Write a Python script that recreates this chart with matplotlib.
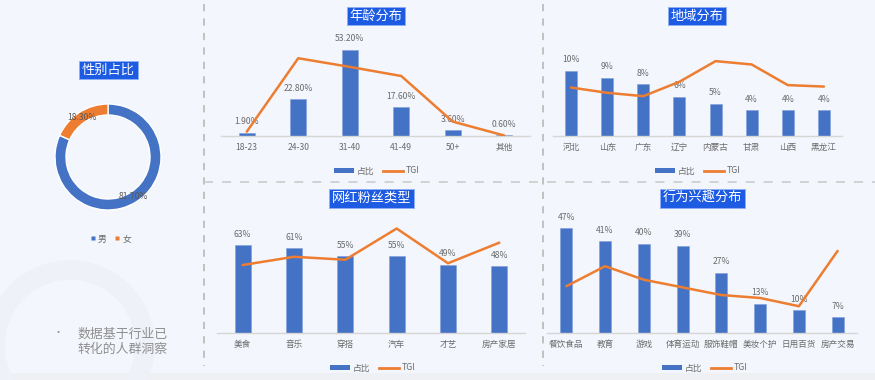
import matplotlib
matplotlib.use("Agg")
import matplotlib.pyplot as plt
from matplotlib.patches import Patch, Circle
from matplotlib.lines import Line2D

plt.rcParams['font.family'] = ['Noto Sans CJK SC', 'DejaVu Sans']

# ---------------- data ----------------
gender_labels = ['男', '女']
gender_values = [81.7, 18.3]

age_cats = ['18-23', '24-30', '31-40', '41-49', '50+', '其他']
age_share = [1.9, 22.8, 53.2, 17.6, 3.6, 0.6]
age_tgi = [9, 162, 144, 125, 30, 1]

region_cats = ['河北', '山东', '广东', '辽宁', '内蒙古', '甘肃', '山西', '黑龙江']
region_share = [10, 9, 8, 6, 5, 4, 4, 4]
region_tgi = [101, 90, 83, 113, 156, 149, 106, 103]

fan_cats = ['美食', '音乐', '穿搭', '汽车', '才艺', '房产家居']
fan_share = [63, 61, 55, 55, 49, 48]
fan_tgi = [115, 129, 124, 177, 118, 153]

interest_cats = ['餐饮食品', '教育', '游戏', '体育运动', '服饰鞋帽', '美妆个护', '日用百货', '房产交易']
interest_share = [47, 41, 40, 39, 27, 13, 10, 7]
interest_tgi = [79, 113, 90, 77, 64, 59, 45, 139]

# ---------------- style ----------------
W, H = 875, 380
BLUE = '#4472c4'
ORANGE = '#ed7d31'
TITLE_BG = '#1d5be3'
TXT = '#6b6b6b'
BG = '#f3f6fc'

fig = plt.figure(figsize=(W / 100, H / 100), dpi=100, facecolor=BG)


def rect(x0, y0, x1, y1):
    return [x0 / W, 1 - y1 / H, (x1 - x0) / W, (y1 - y0) / H]


def fx(x):
    return x / W


def fy(y):
    return 1 - y / H


# background decorations
bg = fig.add_axes([0, 0, 1, 1], zorder=-10)
bg.set_xlim(0, W)
bg.set_ylim(H, 0)
bg.axis('off')
bg.add_patch(plt.Rectangle((0, 373), W, 10, color='#eff0f3', lw=0))
bg.add_patch(Circle((70, 345), 75, fc='none', ec='#eef1f8', lw=14))
# dashed separators
dash_kw = dict(color='#bdbdbd', lw=1.3, linestyle=(0, (4, 4)))
bg.plot([204, 204], [4, 366], **dash_kw)
bg.plot([543, 543], [4, 366], **dash_kw)
bg.plot([204, 875], [182, 182], color='#cfcfcf', lw=1.3, linestyle=(0, (5, 5)))


def title_box(x, y, text):
    fig.text(fx(x), fy(y), text, ha='center', va='center', color='white',
             fontsize=9.5, fontweight='medium',
             bbox=dict(boxstyle='square,pad=0.2', fc=TITLE_BG, ec='#8fb0f5', lw=0.6))


def legend_at(x, y):
    handles = [Patch(facecolor=BLUE, edgecolor='none'),
               Line2D([0], [0], color=ORANGE, lw=2)]
    fig.legend(handles, ['占比', 'TGI'], loc='center', bbox_to_anchor=(fx(x), fy(y)),
               ncol=2, frameon=False, fontsize=6.3, labelcolor=TXT,
               handlelength=2.3, handleheight=0.55, handletextpad=0.3, columnspacing=1.0)


def panel(r, cats, share, tgi, px_per_unit, tgi_px, fmt, barw):
    ax = fig.add_axes(r)
    ax.patch.set_alpha(0)
    hpx = (r[3]) * H
    x = list(range(len(cats)))
    ax.bar(x, share, width=barw, color=BLUE, edgecolor='#7f9fdc', lw=0.4, zorder=2)
    ax.set_xlim(-0.5, len(cats) - 0.5)
    ax.set_ylim(0, hpx / px_per_unit)
    for xi, v in zip(x, share):
        ax.annotate(fmt.format(v), (xi, v), xytext=(0, 11), textcoords='offset pixels',
                    ha='center', va='center', fontsize=6.2, color=TXT, zorder=5)
    ax.set_xticks(x)
    ax.set_xticklabels(cats, fontsize=6.2, color=TXT)
    ax.tick_params(axis='x', length=0, pad=5)
    ax.set_yticks([])
    for s in ['top', 'left', 'right']:
        ax.spines[s].set_visible(False)
    ax.spines['bottom'].set_color('#d6d6d6')
    ax.spines['bottom'].set_linewidth(1)
    ax2 = ax.twinx()
    ax2.plot(x, tgi, color=ORANGE, lw=1.8, zorder=4, solid_capstyle='round')
    ax2.set_ylim(0, hpx / tgi_px)
    ax2.axis('off')
    return ax


# ---------------- gender donut ----------------
cx, cy, R = 108, 157, 53
S = R * 2.5
axp = fig.add_axes(rect(cx - S / 2, cy - S / 2, cx + S / 2, cy + S / 2))
axp.patch.set_alpha(0)
wedges, texts, autotexts = axp.pie(
    gender_values, colors=[BLUE, ORANGE], startangle=90, counterclock=False,
    autopct='%.2f%%', pctdistance=0.89,
    wedgeprops=dict(width=11 / R, edgecolor='white', linewidth=1),
    textprops=dict(fontsize=6.2, color='#5a5a5a'))
title_box(108.5, 70, '性别占比')
gh = [Line2D([0], [0], marker='s', color='none', markerfacecolor=BLUE, markeredgecolor='none', markersize=3),
      Line2D([0], [0], marker='s', color='none', markerfacecolor=ORANGE, markeredgecolor='none', markersize=3)]
fig.legend(gh, gender_labels, loc='center', bbox_to_anchor=(fx(110), fy(239)), ncol=2,
           frameon=False, fontsize=6.3, labelcolor=TXT, handlelength=0.8,
           handletextpad=0.2, columnspacing=0.8)

fig.text(fx(58), fy(333), '•', ha='center', va='center', fontsize=8, color='#9a9a9a')
fig.text(fx(77), fy(342), '数据基于行业已\n转化的人群洞察', ha='left', va='center',
         fontsize=9.3, color='#8f8f8f', linespacing=1.25)

# ---------------- age ----------------
panel(rect(221, 40, 530, 136), age_cats, age_share, age_tgi, 1.62, 0.48, '{:.2f}%', 0.31)
title_box(376, 16, '年龄分布')
legend_at(377, 171)

# ---------------- region ----------------
panel(rect(553, 40, 842, 136), region_cats, region_share, region_tgi, 6.5, 0.48, '{:d}%', 0.33)
title_box(697, 16, '地域分布')
legend_at(698, 171)

# ---------------- fans ----------------
panel(rect(217, 215, 525, 332.7), fan_cats, fan_share, fan_tgi, 1.386, 0.5885, '{:d}%', 0.31)
title_box(371.5, 198.5, '网红粉丝类型')
legend_at(373, 368)

# ---------------- interest ----------------
panel(rect(547, 215, 857, 332.7), interest_cats, interest_share, interest_tgi, 2.225, 0.5885, '{:d}%', 0.31)
title_box(702.5, 198.5, '行为兴趣分布')
legend_at(705, 368)

fig.savefig('out.png', dpi=100, facecolor=BG)
